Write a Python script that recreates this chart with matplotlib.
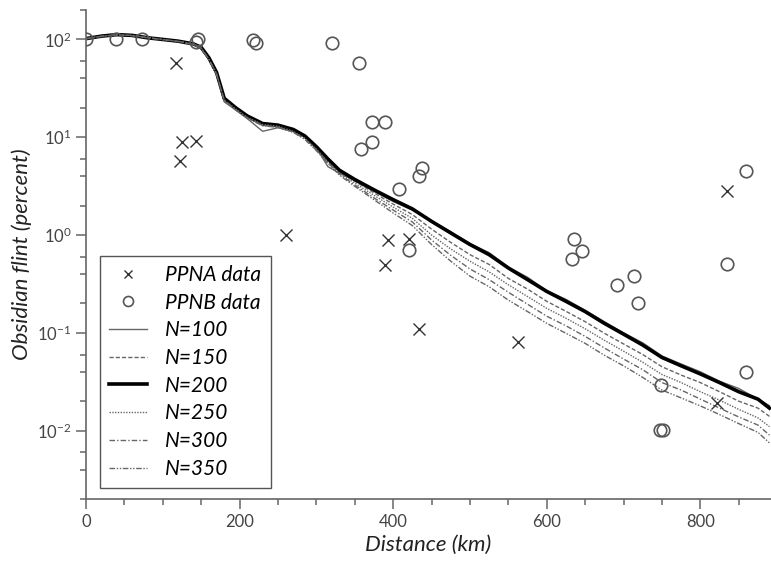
import numpy as np
import matplotlib
matplotlib.use("Agg")
import matplotlib.pyplot as plt
from matplotlib.ticker import LogLocator, MultipleLocator, LogFormatterSciNotation

plt.rcParams['font.family'] = ['Lato', 'DejaVu Sans']
plt.rcParams['mathtext.fontset'] = 'custom'
plt.rcParams['mathtext.rm'] = 'Lato'
plt.rcParams['mathtext.it'] = 'Lato:italic'

# observed sites
ppna_dist = [117, 125, 143, 122, 261, 393, 390, 420, 434, 563, 835, 822]
ppna_pct = [57, 8.9, 9.2, 5.7, 1.0, 0.9, 0.49, 0.91, 0.11, 0.08, 2.85, 0.019]

ppnb_dist = [0, 39, 73, 143, 146, 217, 222, 320, 356, 373, 390, 358, 372,
             408, 434, 438, 420, 633, 636, 646, 692, 713, 719, 749, 748, 752,
             835, 859, 860]
ppnb_pct = [100, 100, 100, 95, 102, 98, 93, 93, 58, 14.3, 14.3, 7.5, 8.9,
            2.98, 4.05, 4.9, 0.70, 0.57, 0.91, 0.68, 0.31, 0.38, 0.20, 0.029,
            0.0102, 0.0102, 0.51, 0.040, 4.5]

# simulated curves
dist = [0, 20, 40, 60, 80, 100, 120, 140, 150, 160, 170, 180, 195, 210, 230,
        250, 270, 285, 300, 315, 330, 350, 375, 400, 425, 450, 475, 500, 525,
        550, 575, 600, 625, 650, 675, 700, 725, 750, 775, 800, 825, 850, 875, 890]

n100 = [100, 110, 113, 108, 103, 99, 95, 89, 80, 62, 44, 23, 19, 15.5, 11.5,
        12.5, 11.5, 10.0, 7.8, 5.0, 4.3, 3.6, 2.8, 2.2, 1.8, 1.4, 1.08, 0.82,
        0.66, 0.47, 0.37, 0.27, 0.22, 0.17, 0.13, 0.10, 0.079, 0.058, 0.048,
        0.040, 0.032, 0.027, 0.021, 0.018]
n150 = [101, 107, 111, 109, 104, 99, 95, 90, 82, 64, 45, 24, 19.5, 16, 13.2,
        12.8, 11.6, 10.0, 7.6, 5.7, 4.4, 3.55, 2.7, 2.07, 1.62, 1.15, 0.84, 0.63,
        0.50, 0.36, 0.28, 0.21, 0.166, 0.13, 0.099, 0.077, 0.060, 0.045, 0.037,
        0.031, 0.025, 0.020, 0.017, 0.014]
n200 = [102, 108, 112, 110, 104, 100, 96, 90, 83, 65, 46, 25, 20, 16.5, 13.8,
        13.3, 12.0, 10.3, 8.0, 6.0, 4.6, 3.7, 2.9, 2.3, 1.85, 1.38, 1.05, 0.80,
        0.63, 0.46, 0.35, 0.265, 0.21, 0.165, 0.125, 0.097, 0.075, 0.056, 0.046,
        0.038, 0.031, 0.025, 0.021, 0.017]
n250 = [103, 108, 111, 110, 105, 100, 96, 89, 82, 63, 45, 24, 19.5, 16, 13.5,
        13.0, 11.5, 9.8, 7.6, 5.6, 4.3, 3.4, 2.55, 1.93, 1.48, 1.0, 0.72, 0.54,
        0.42, 0.31, 0.235, 0.178, 0.141, 0.11, 0.084, 0.065, 0.050, 0.0375,
        0.031, 0.025, 0.0205, 0.0165, 0.0135, 0.011]
n300 = [102, 107, 112, 109, 104, 100, 95, 89, 81, 63, 44, 24, 19, 15.8, 13.3,
        12.7, 11.3, 9.6, 7.4, 5.5, 4.2, 3.25, 2.4, 1.8, 1.36, 0.89, 0.62, 0.45,
        0.35, 0.26, 0.196, 0.148, 0.118, 0.092, 0.07, 0.054, 0.042, 0.031,
        0.026, 0.021, 0.017, 0.0138, 0.0114, 0.009]
n350 = [101, 108, 111, 110, 104, 99, 96, 89, 81, 62, 44, 23.5, 19, 15.6, 13.1,
        12.6, 11.2, 9.5, 7.3, 5.4, 4.1, 3.15, 2.3, 1.68, 1.25, 0.8, 0.54, 0.38,
        0.296, 0.216, 0.165, 0.125, 0.099, 0.078, 0.059, 0.046, 0.035, 0.026,
        0.0216, 0.0179, 0.0146, 0.0118, 0.0096, 0.0075]

fig = plt.figure(figsize=(7.71, 5.65), dpi=100)
ax = fig.add_axes([86 / 771, 66 / 565, 685 / 771, 489 / 565])

grey = '#555555'
ax.plot(ppna_dist, ppna_pct, 'x', color='#333333', ms=8, mew=1.0,
        label='PPNA data', zorder=3)
ax.plot(ppnb_dist, ppnb_pct, 'o', mfc='none', mec=grey, ms=9, mew=1.2,
        label='PPNB data', zorder=3)

ax.plot(dist, n100, '-', color='#666666', lw=1.0, label='N=100')
ax.plot(dist, n150, color='#666666', lw=1.0, dashes=(3, 1.5), label='N=150')
ax.plot(dist, n200, '-', color='black', lw=2.6, label='N=200')
ax.plot(dist, n250, color='#666666', lw=1.0, dashes=(1, 1), label='N=250')
ax.plot(dist, n300, color='#666666', lw=1.0, dashes=(4, 1.5, 1, 1.5), label='N=300')
ax.plot(dist, n350, color='#666666', lw=1.0, dashes=(4, 1.2, 1, 1.2, 1, 1.2), label='N=350')

ax.set_yscale('log')
ax.set_xlim(0, 892)
ax.set_ylim(0.002, 200)

ax.xaxis.set_major_locator(MultipleLocator(200))
ax.xaxis.set_minor_locator(MultipleLocator(50))
ax.yaxis.set_major_locator(LogLocator(base=10, numticks=10))
ax.yaxis.set_minor_locator(LogLocator(base=10, subs=(2, 4, 6), numticks=10))
ax.yaxis.set_major_formatter(LogFormatterSciNotation())

for s in ['top', 'right']:
    ax.spines[s].set_visible(False)
for s in ['left', 'bottom']:
    ax.spines[s].set_color('#666666')
    ax.spines[s].set_linewidth(1.2)

ax.tick_params(which='major', direction='out', length=7, width=1.1,
               color='#666666', labelcolor='#444444', labelsize=12)
ax.tick_params(which='minor', direction='out', length=4.5, width=1.1,
               color='#666666')

ax.set_xlabel('Distance (km)', style='italic', fontsize=16, color='#222222')
ax.set_ylabel('Obsidian flint (percent)', style='italic', fontsize=16,
              color='#222222')

leg = ax.legend(loc='lower left', bbox_to_anchor=(0.02, 0.022),
                prop={'style': 'italic', 'size': 15}, numpoints=1,
                markerscale=0.8, handlelength=1.8, handletextpad=0.9,
                labelspacing=0.37, fancybox=False, edgecolor=grey,
                framealpha=1, borderpad=0.45, borderaxespad=0)
leg.get_frame().set_linewidth(1.0)

fig.savefig('out.png', dpi=100)
